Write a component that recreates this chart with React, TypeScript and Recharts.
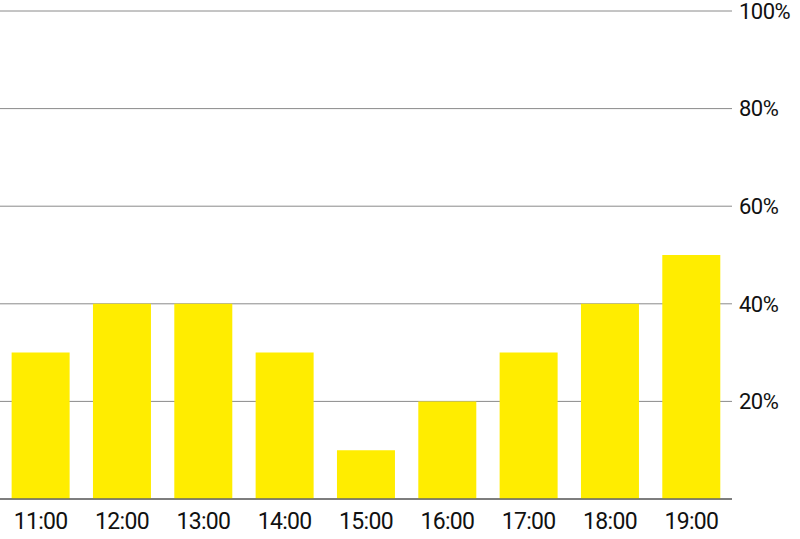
import React from "react";
import { BarChart, Bar, XAxis, YAxis, CartesianGrid } from "recharts";

const categories = ["11:00", "12:00", "13:00", "14:00", "15:00", "16:00", "17:00", "18:00", "19:00"];
const values = [30, 40, 40, 30, 10, 20, 30, 40, 50];
const yTicks = [0, 20, 40, 60, 80, 100];

const data = categories.map((c, i) => ({ time: c, value: values[i] }));

const font = "Roboto, 'Noto Sans', sans-serif";

export default function App() {
  return (
    <div style={{ position: "absolute", left: 0, top: 0, width: 800, height: 539, background: "#fff" }}>
      <BarChart
        width={800}
        height={539}
        data={data}
        margin={{ top: 11, right: 0, bottom: 0, left: 0 }}
        barCategoryGap="14.3%"
        style={{ overflow: "visible" }}
      >
        <CartesianGrid horizontal vertical={false} stroke="#8a8a8a" strokeWidth={1} />
        <XAxis
          dataKey="time"
          height={40}
          tickLine={false}
          axisLine={{ stroke: "#666", strokeWidth: 1.5 }}
          tickMargin={8}
          tick={{ fill: "#111", fontSize: 23, fontFamily: font, letterSpacing: -0.7 }}
          interval={0}
        />
        <YAxis
          orientation="right"
          width={68}
          domain={[0, 100]}
          ticks={yTicks}
          tickFormatter={(v: number) => (v === 0 ? "" : `${v}%`)}
          tickLine={false}
          axisLine={false}
          tickMargin={1}
          tick={{ fill: "#111", fontSize: 22, fontFamily: font, letterSpacing: -0.5 }}
          interval={0}
        />
        <Bar dataKey="value" fill="#FFED00" isAnimationActive={false} />
      </BarChart>
    </div>
  );
}
